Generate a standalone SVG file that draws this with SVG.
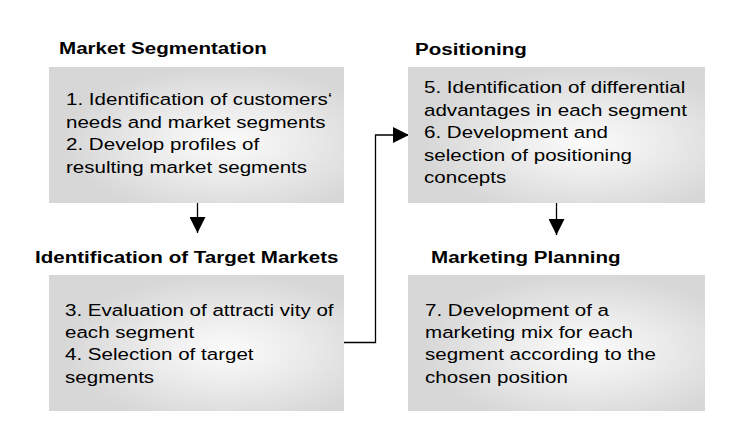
<svg xmlns="http://www.w3.org/2000/svg" width="740" height="440" viewBox="0 0 740 440">
<defs>
<radialGradient id="g" cx="0.6" cy="0.55" r="0.55" fx="0.6" fy="0.55">
<stop offset="0" stop-color="#fbfbfb"/>
<stop offset="0.45" stop-color="#ececec"/>
<stop offset="1" stop-color="#d7d7d7"/>
</radialGradient>
<marker id="ah" viewBox="0 0 10 10" refX="10" refY="5" markerWidth="16" markerHeight="16" markerUnits="userSpaceOnUse" orient="auto">
<path d="M0,0 L10,5 L0,10 Z" fill="#000"/>
</marker>
<style>
.box{fill:url(#g);}
.title{font-family:"Liberation Sans",Arial,sans-serif;font-size:17px;font-weight:bold;fill:#000;}
.body{font-family:"Liberation Sans",Arial,sans-serif;font-size:17px;fill:#000;}
.conn{fill:none;stroke:#000;stroke-width:1.3;}
</style>
</defs>
<rect width="740" height="440" fill="#fff"/>
<g id="connectors">
<path class="conn" d="M197.5,203 V233" marker-end="url(#ah)"/>
<path class="conn" d="M556.5,203 V235" marker-end="url(#ah)"/>
<path class="conn" d="M344,342.5 H375.5 V135 H409" marker-end="url(#ah)"/>
</g>
<g id="market-segmentation">
<text class="title" transform="matrix(1.21 0 0 1 59 54)">Market Segmentation</text>
<rect class="box" x="49" y="67" width="295" height="136"/>
<text class="body" transform="matrix(1.21 0 0 1 66 105)"><tspan x="0" y="0">1. Identification of customers‘</tspan><tspan x="0" y="22.7">needs and market segments</tspan><tspan x="0" y="45.4">2. Develop profiles of</tspan><tspan x="0" y="68.1">resulting market segments</tspan></text>
</g>
<g id="positioning">
<text class="title" transform="matrix(1.21 0 0 1 415 55)">Positioning</text>
<rect class="box" x="408" y="67" width="297" height="136"/>
<text class="body" transform="matrix(1.21 0 0 1 424 93)"><tspan x="0" y="0">5. Identification of differential</tspan><tspan x="0" y="22.6">advantages in each segment</tspan><tspan x="0" y="45.2">6. Development and</tspan><tspan x="0" y="67.8">selection of positioning</tspan><tspan x="0" y="90.4">concepts</tspan></text>
</g>
<g id="target-markets">
<text class="title" transform="matrix(1.21 0 0 1 35 263)">Identification of Target Markets</text>
<rect class="box" x="49" y="275" width="295" height="136"/>
<text class="body" transform="matrix(1.21 0 0 1 65 316)"><tspan x="0" y="0">3. Evaluation of attracti vity of</tspan><tspan x="0" y="22.2">each segment</tspan><tspan x="0" y="44.4">4. Selection of target</tspan><tspan x="0" y="66.6">segments</tspan></text>
</g>
<g id="marketing-planning">
<text class="title" transform="matrix(1.21 0 0 1 431 263)">Marketing Planning</text>
<rect class="box" x="408" y="275" width="297" height="136"/>
<text class="body" transform="matrix(1.21 0 0 1 425 316)"><tspan x="0" y="0">7. Development of a</tspan><tspan x="0" y="22.2">marketing mix for each</tspan><tspan x="0" y="44.4">segment according to the</tspan><tspan x="0" y="66.6">chosen position</tspan></text>
</g>
</svg>
